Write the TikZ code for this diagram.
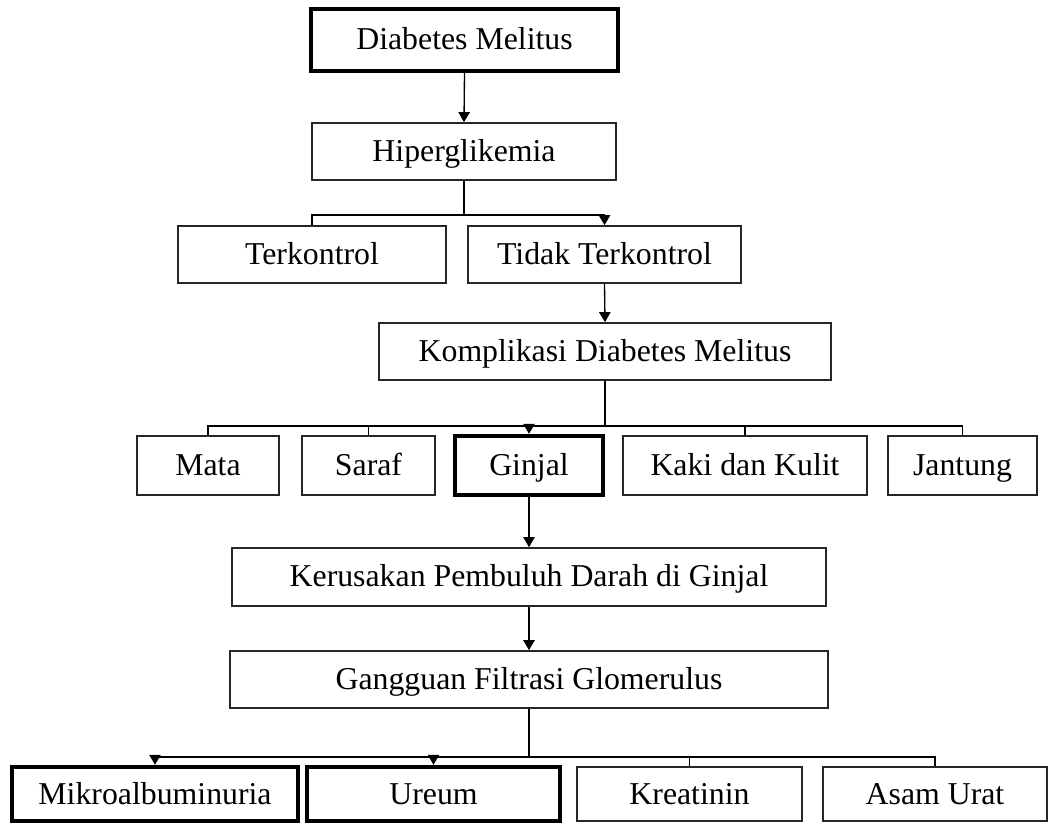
\documentclass[tikz,border=0pt]{standalone}
\usepackage{fontspec}
\setmainfont{Liberation Serif}
\usetikzlibrary{arrows.meta}
\tikzset{
  box/.style={draw=black!85, line width=1.25pt,
    fill=white, inner sep=0pt, align=center, text height=17pt, text depth=2pt,
    font=\fontsize{23.85pt}{28pt}\selectfont},
  thickbox/.style={box, draw=black, line width=3.3pt},
  conn/.style={line width=1pt, draw=black},
  arr/.style={conn, -{Triangle[width=8.5pt,length=7.5pt]}}
}
\begin{document}
\begin{tikzpicture}[x=0.75pt,y=-0.75pt]
\useasboundingbox (0,0) rectangle (1058,823);
% row 1-2
\node[thickbox, minimum width=230pt, minimum height=46.5pt] (dm) at (464.5,40) {Diabetes Melitus};
\node[box, minimum width=228pt, minimum height=42.75pt] (hip) at (464,151.5) {Hiperglikemia};
% row 3
\node[box, minimum width=201pt, minimum height=42.75pt] (terk) at (312,254.5) {Terkontrol};
\node[box, minimum width=204.75pt, minimum height=42.75pt] (tidak) at (604.5,254.5) {Tidak Terkontrol};
% row 4
\node[box, minimum width=339pt, minimum height=42.75pt] (komp) at (605,351.5) {Komplikasi Diabetes Melitus};
% row 5
\node[box, minimum width=106.5pt, minimum height=44.25pt] (mata) at (208,465.5) {Mata};
\node[box, minimum width=99.75pt, minimum height=44.25pt] (saraf) at (368.5,465.5) {Saraf};
\node[thickbox, minimum width=111pt, minimum height=44.25pt] (ginjal) at (529,465.5) {Ginjal};
\node[box, minimum width=183pt, minimum height=44.25pt] (kaki) at (745,465.5) {Kaki dan Kulit};
\node[box, minimum width=111.75pt, minimum height=44.25pt] (jantung) at (962.5,465.5) {Jantung};
% row 6-7
\node[box, minimum width=445.5pt, minimum height=43.5pt] (keru) at (529,577) {Kerusakan Pembuluh Darah di Ginjal};
\node[box, minimum width=448.5pt, minimum height=42.75pt] (gang) at (529,679.5) {Gangguan Filtrasi Glomerulus};
% row 8
\node[thickbox, minimum width=214.5pt, minimum height=40.5pt] (mikro) at (155,794) {Mikroalbuminuria};
\node[thickbox, minimum width=189.75pt, minimum height=40.5pt] (ureum) at (433.5,794) {Ureum};
\node[box, minimum width=168.75pt, minimum height=40.5pt] (kreat) at (689.5,794) {Kreatinin};
\node[box, minimum width=168pt, minimum height=40.5pt] (asam) at (935,794) {Asam Urat};
% junctions
\coordinate (j1) at (464,215);
\coordinate (j2) at (605,426);
\coordinate (j3) at (529,757);
% connectors
\draw[arr] (dm.south) -- (hip.north);
\draw[conn] (hip.south) -- (j1);
\draw[conn] (terk.north) |- (j1);
\draw[arr] (j1) -| (tidak.north);
\draw[arr] (tidak.south) -- (komp.north);
\draw[conn] (komp.south) -- (j2);
\draw[conn] (mata.north) |- (j2);
\draw[conn] (jantung.north) |- (j2);
\draw[conn] (saraf.north) -- (saraf.north |- j2);
\draw[conn] (kaki.north) -- (kaki.north |- j2);
\draw[arr] (j2 -| ginjal.north) -- (ginjal.north);
\draw[arr] (ginjal.south) -- (keru.north);
\draw[arr] (keru.south) -- (gang.north);
\draw[conn] (gang.south) -- (j3);
\draw[arr] (j3) -| (mikro.north);
\draw[arr] (j3 -| ureum.north) -- (ureum.north);
\draw[conn] (j3) -| (asam.north);
\draw[conn] (j3 -| kreat.north) -- (kreat.north);
\end{tikzpicture}
\end{document}
